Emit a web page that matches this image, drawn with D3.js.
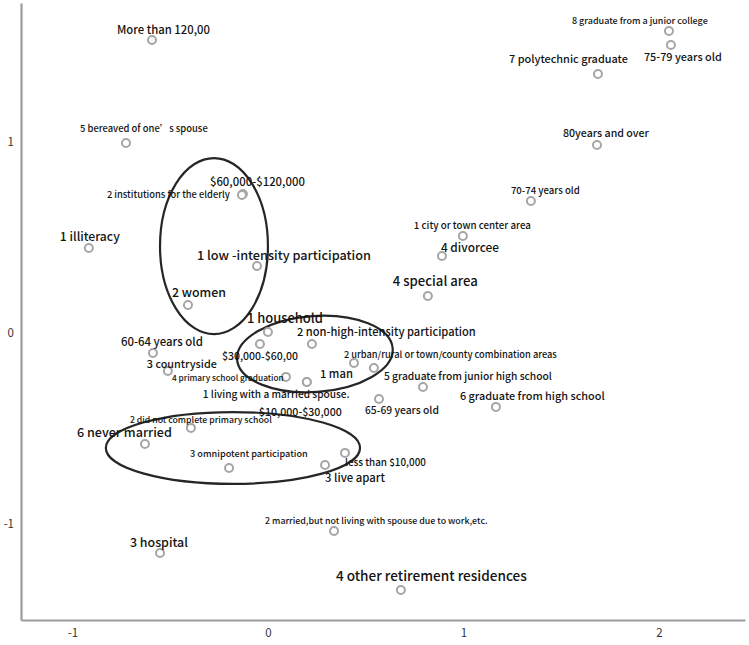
<!DOCTYPE html>
<html>
<head>
<meta charset="utf-8">
<script src="https://cdn.jsdelivr.net/npm/d3@7"></script>
<style>
  body { margin: 0; background: #fff; }
  svg text { font-family: "Noto Sans CJK SC", "Noto Sans", sans-serif; }
</style>
</head>
<body>
<svg id="chart" width="749" height="645"></svg>
<script>
// category points (dimension 1 / dimension 2)
const LABELS = [
  "More than 120,00", "5 bereaved of one’s spouse", "$60,000-$120,000",
  "2 institutions for the elderly", "1 illiteracy", "1 low -intensity participation",
  "2 women", "1 household", "60-64 years old", "$30,000-$60,00",
  "2 non-high-intensity participation", "3 countryside", "4 primary school graduation",
  "1 man", "1 living with a married spouse.", "$10,000-$30,000",
  "2 urban/rural or town/county combination areas", "5 graduate from junior high school",
  "65-69 years old", "6 graduate from high school", "2 did not complete primary school",
  "6 never married", "3 omnipotent participation", "less than $10,000", "3 live apart",
  "2 married,but not living with spouse due to work,etc.", "3 hospital",
  "4 other retirement residences", "8 graduate from a junior college", "75-79 years old",
  "7 polytechnic graduate", "80years and over", "70-74 years old",
  "1 city or town center area", "4 divorcee", "4 special area"
];
const DIM1 = [
  -0.593, -0.726, -0.128, -0.133, -0.916, -0.056, -0.409, 0.000, -0.588, -0.041,
   0.225, -0.512,  0.092,  0.440,  0.199,  0.199,  0.542, 0.793,  0.568,  1.166,
  -0.394, -0.629, -0.199,  0.394,  0.292,  0.338, -0.552, 0.680,  2.051,  2.061,
   1.688,  1.683,  1.345,  0.997,  0.890,  0.818
];
const DIM2 = [
   1.534,  0.995,  0.728,  0.723,  0.445,  0.351,  0.147,  0.005, -0.105, -0.058,
  -0.058, -0.199, -0.230, -0.157, -0.257, -0.257, -0.183, -0.283, -0.346, -0.387,
  -0.497, -0.581, -0.707, -0.628, -0.691, -1.037, -1.152, -1.346,  1.581,  1.508,
   1.356,  0.984,  0.691,  0.508,  0.403,  0.194
];
const X_TICKS = [-1, 0, 1, 2];
const Y_TICKS = [-1, 0, 1];

// hand-drawn groupings: centre and radii in axis units
const ELLIPSE_CX = [-0.276, 0.240, -0.179];
const ELLIPSE_CY = [ 0.455, -0.110, -0.602];
const ELLIPSE_RX = [ 0.276, 0.399, 0.650];
const ELLIPSE_RY = [ 0.461, 0.199, 0.188];

// label placement: offset from point (px) and text width (px)
const LABEL_LAYOUT = [
  [-35,-11, 93], [-46,-15,128], [-33,-13, 95], [-135,-1,123], [-29,-12, 60],
  [-60,-11,174], [-16,-13, 54], [-21,-15, 76], [-32,-12, 82], [-38, 11, 76],
  [-15,-13,179], [-21, -8, 70], [-114, 0,112], [-34, 10, 33], [-104,11,147],
  [-48, 29, 83], [-30,-14,213], [-39,-12,168], [-14, 10, 74], [-36,-12,145],
  [-61, -8,142], [-68,-12, 95], [-39,-15,118], [  0,  9, 81], [  0, 12, 60],
  [-69,-11,223], [-30,-11, 58], [-65,-15,191], [-97,-11,136], [-27, 11, 78],
  [-89,-16,119], [-34,-13, 86], [-20,-11, 69], [-49,-11,117], [ -1,-10, 58],
  [-35,-15, 85]
];
const ELLIPSE_ROT = [0, -4, 0];

const svg = d3.select("#chart");
const x = d3.scaleLinear().domain([-1.263, 2.44]).range([21, 745]);
const y = d3.scaleLinear().domain([-1.503, 1.728]).range([620, 3]);

// axes
const xAxis = svg.append("g")
  .attr("transform", "translate(0,620)")
  .call(d3.axisBottom(x).tickValues(X_TICKS).tickSize(0).tickPadding(9)
          .tickFormat(d => String(d)));
const yAxis = svg.append("g")
  .attr("transform", "translate(21,0)")
  .call(d3.axisLeft(y).tickValues(Y_TICKS).tickSize(0).tickPadding(7)
          .tickFormat(d => String(d)));
[xAxis, yAxis].forEach(a => {
  a.select(".domain").style("stroke", "#9b9b9b").style("stroke-width", 2.2);
  a.selectAll("text").style("fill", "#333").style("font-size", "11.5px")
    .style("font-family", "\"Noto Sans CJK SC\", sans-serif");
});

// ellipses
ELLIPSE_CX.forEach((cx, i) => {
  const px = x(cx), py = y(ELLIPSE_CY[i]);
  svg.append("ellipse")
    .attr("cx", px).attr("cy", py)
    .attr("rx", x(cx + ELLIPSE_RX[i]) - px)
    .attr("ry", py - y(ELLIPSE_CY[i] + ELLIPSE_RY[i]))
    .attr("transform", `rotate(${ELLIPSE_ROT[i]},${px},${py})`)
    .attr("fill", "none")
    .attr("stroke", "#262626")
    .attr("stroke-width", 2.2);
});

// points
const pts = LABELS.map((label, i) => ({ label, d1: DIM1[i], d2: DIM2[i], lay: LABEL_LAYOUT[i] }));

svg.append("g").selectAll("circle")
  .data(pts).join("circle")
  .attr("cx", d => x(d.d1))
  .attr("cy", d => y(d.d2))
  .attr("r", 4)
  .attr("fill", "#fff")
  .attr("stroke", "#a6a6a6")
  .attr("stroke-width", 2);

// labels, sized to the width they take in the picture
svg.append("g").selectAll("text")
  .data(pts).join("text")
  .attr("x", d => x(d.d1) + d.lay[0])
  .attr("y", d => y(d.d2) + d.lay[1])
  .attr("dominant-baseline", "central")
  .style("fill", "#141414")
  .style("font-weight", 500)
  .style("font-size", "10px")
  .text(d => d.label)
  .each(function(d) {
    const w = this.getComputedTextLength() || 1;
    d3.select(this).style("font-size", (10 * d.lay[2] / w).toFixed(2) + "px");
  });
</script>
</body>
</html>
